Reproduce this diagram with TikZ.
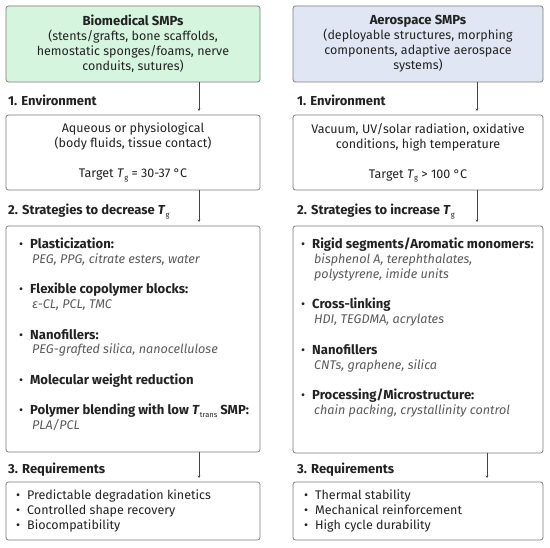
\documentclass[tikz,border=0pt]{standalone}
\usepackage{fontspec}
\setmainfont{Fira Sans}
\usetikzlibrary{arrows.meta}
\definecolor{bioG}{HTML}{D6F5DE}
\definecolor{aeroB}{HTML}{E0E6F3}
\definecolor{edgeG}{HTML}{7C7C7C}
\definecolor{txt}{HTML}{222222}
\definecolor{itl}{HTML}{5A5A5A}
\newcommand\Tsb[1]{\textit{T}\kern0.2pt\raisebox{-0.35ex}{\fontsize{7.5}{7}\selectfont\mdseries #1}}
\begin{document}
\begin{tikzpicture}[x=1pt,y=-1pt,
  every node/.style={text=txt},
  box/.style={draw=edgeG, line width=0.8pt, rounded corners=2.5pt, inner sep=0pt},
  conn/.style={draw=txt!85, line width=0.6pt, -{Stealth[length=2.5pt,width=2.5pt]}},
  head/.style={anchor=mid west, inner sep=0pt, font=\fontsize{13}{13}\selectfont\bfseries},
  ctext/.style={align=center, inner sep=0pt, font=\fontsize{12.5}{15}\selectfont},
  bul/.style={anchor=mid west, inner sep=0pt, font=\fontsize{12.5}{13}\selectfont},
  bitem/.style={anchor=mid west, inner sep=0pt, font=\fontsize{13.1}{13}\selectfont\bfseries},
  iitem/.style={anchor=mid west, inner sep=0pt, text=itl, font=\fontsize{12.6}{13}\selectfont\itshape},
  ritem/.style={anchor=mid west, inner sep=0pt, font=\fontsize{12.5}{13}\selectfont}
]
\useasboundingbox[fill=white] (0,0) rectangle (550,548);

% ---------- boxes ----------
\node[box, fill=bioG, minimum width=254pt, minimum height=76pt] (bio) at (133,44) {};
\node[box, fill=aeroB, minimum width=250pt, minimum height=76pt] (aero) at (418,44) {};
\node[box, minimum width=254pt, minimum height=75pt] (env1) at (133,152.5) {};
\node[box, minimum width=250pt, minimum height=75pt] (env2) at (418,152.5) {};
\node[box, minimum width=254pt, minimum height=226pt] (str1) at (133,339) {};
\node[box, minimum width=250pt, minimum height=227pt] (str2) at (418,339.5) {};
\node[box, minimum width=254pt, minimum height=58pt] (req1) at (133,511) {};
\node[box, minimum width=250pt, minimum height=58pt] (req2) at (418,511) {};

% ---------- top texts ----------
\node[ctext] (biot) at (133,44) {{\fontsize{13.1}{15}\selectfont\bfseries Biomedical SMPs}\\(stents/grafts, bone scaffolds,\\hemostatic sponges/foams, nerve\\conduits, sutures)};
\node[ctext] (aerot) at (418,44) {{\fontsize{13.1}{15}\selectfont\bfseries Aerospace SMPs}\\(deployable structures, morphing\\components, adaptive aerospace\\systems)};

% ---------- headings ----------
\node[head] (h1l) at (8,103) {1. Environment};
\node[head] (h1r) at (297,103) {1. Environment};
\node[head] (h2l) at (8,212) {2. Strategies to decrease \Tsb{g}};
\node[head] (h2r) at (297,212) {2. Strategies to increase \Tsb{g}};
\node[head] (h3l) at (8,471) {3. Requirements};
\node[head] (h3r) at (297,471) {3. Requirements};

% ---------- environment texts ----------
\node[ctext] (envt1) at (133,152.5) {Aqueous or physiological\\(body fluids, tissue contact)\\[15pt]Target \Tsb{g} = 30-37 °C};
\node[ctext] (envt2) at (418,152.5) {Vacuum, UV/solar radiation, oxidative\\conditions, high temperature\\[15pt]Target \Tsb{g} > 100 °C};

% ---------- strategies left ----------
\node[bul] (lb1) at (19,246) {•};
\node[bitem] (ls1) at (30,246) {Plasticization:};
\node[iitem] (li1) at (32,261) {PEG, PPG, citrate esters, water};
\node[bul] (lb2) at (19,291) {•};
\node[bitem] (ls2) at (30,291) {Flexible copolymer blocks:};
\node[iitem] (li2) at (32,306) {ε-CL, PCL, TMC};
\node[bul] (lb3) at (19,337) {•};
\node[bitem] (ls3) at (30,337) {Nanofillers:};
\node[iitem] (li3) at (32,351) {PEG-grafted silica, nanocellulose};
\node[bul] (lb4) at (19,382) {•};
\node[bitem] (ls4) at (30,382) {Molecular weight reduction};
\node[bul] (lb5) at (19,412) {•};
\node[bitem] (ls5) at (30,412) {Polymer blending with low \Tsb{trans} SMP:};
\node[iitem] (li5) at (32,427) {PLA/PCL};

% ---------- strategies right ----------
\node[bul] (rb1) at (301,246) {•};
\node[bitem] (rs1) at (312,246) {Rigid segments/Aromatic monomers:};
\node[iitem] (ri1a) at (314,261) {bisphenol A, terephthalates,};
\node[iitem] (ri1b) at (314,276) {polystyrene, imide units};
\node[bul] (rb2) at (301,306) {•};
\node[bitem] (rs2) at (312,306) {Cross-linking};
\node[iitem] (ri2) at (314,321) {HDI, TEGDMA, acrylates};
\node[bul] (rb3) at (301,352) {•};
\node[bitem] (rs3) at (312,352) {Nanofillers};
\node[iitem] (ri3) at (314,367) {CNTs, graphene, silica};
\node[bul] (rb4) at (301,397) {•};
\node[bitem] (rs4) at (312,397) {Processing/Microstructure:};
\node[iitem] (ri4) at (314,412) {chain packing, crystallinity control};

% ---------- requirements ----------
\node[bul] (lq1b) at (16,497) {•};
\node[ritem] (lq1) at (27,497) {Predictable degradation kinetics};
\node[bul] (lq2b) at (16,512) {•};
\node[ritem] (lq2) at (27,512) {Controlled shape recovery};
\node[bul] (lq3b) at (16,527) {•};
\node[ritem] (lq3) at (27,527) {Biocompatibility};
\node[bul] (rq1b) at (304,497) {•};
\node[ritem] (rq1) at (315,497) {Thermal stability};
\node[bul] (rq2b) at (304,512) {•};
\node[ritem] (rq2) at (315,512) {Mechanical reinforcement};
\node[bul] (rq3b) at (304,527) {•};
\node[ritem] (rq3) at (315,527) {High cycle durability};

% ---------- connectors ----------
\coordinate (e1l) at (199,111);
\coordinate (e2l) at (199,222);
\coordinate (e3l) at (199,478);
\coordinate (e1r) at (477,111);
\coordinate (e2r) at (477,222);
\coordinate (e3r) at (487,478);
\draw[conn] (bio.south -| e1l) -- (e1l);
\draw[conn] (env1.south -| e2l) -- (e2l);
\draw[conn] (str1.south -| e3l) -- (e3l);
\draw[conn] (aero.south -| e1r) -- (e1r);
\draw[conn] (env2.south -| e2r) -- (e2r);
\draw[conn] (str2.south -| e3r) -- (e3r);
\end{tikzpicture}
\end{document}
